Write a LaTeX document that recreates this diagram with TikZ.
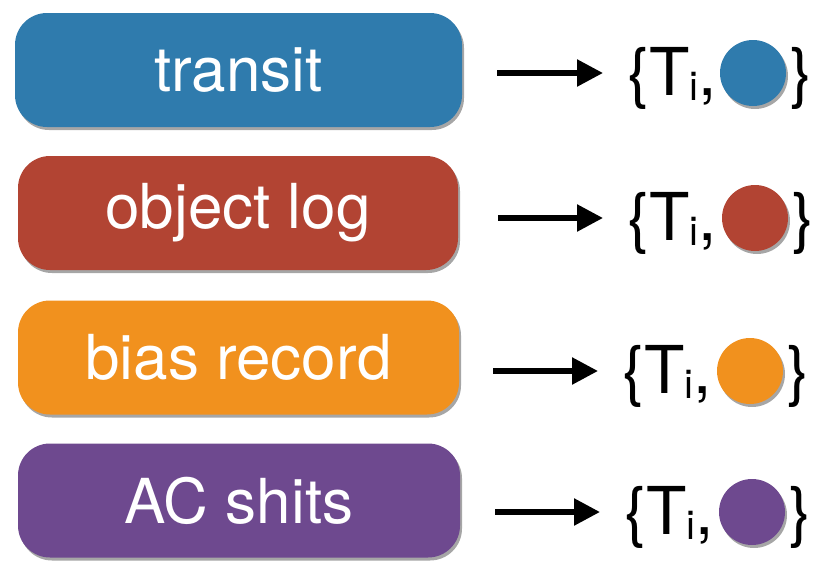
\documentclass[tikz,border=0pt]{standalone}
\usepackage{fontspec}
\setmainfont{TeX Gyre Heros}
\usetikzlibrary{shadows,arrows.meta}
\definecolor{cblue}{HTML}{2F7BAD}
\definecolor{cred}{HTML}{B24433}
\definecolor{corange}{HTML}{F1911E}
\definecolor{cpurple}{HTML}{6E498F}
\begin{document}
\begin{tikzpicture}[x=1pt,y=-1pt,
  pill/.style={rounded corners=32pt, text=white, font=\fontsize{62}{62}\selectfont, inner sep=0pt,
    minimum height=114pt,
    drop shadow={shadow xshift=2pt, shadow yshift=-3pt, opacity=0.35, fill=black}},
  dot/.style={circle, minimum size=66pt, inner sep=0pt,
    drop shadow={shadow xshift=2pt, shadow yshift=-3pt, opacity=0.35, fill=black}},
  setx/.style={anchor=base west, inner sep=0pt, font=\fontsize{66}{66}\selectfont},
  conn/.style={line width=5.5pt, -{Triangle[length=26pt,width=26pt]}, shorten >=24pt}]
\useasboundingbox (0,0) rectangle (816,560);

\node[pill, fill=cblue,   minimum width=447pt] (p1) at (238.5,70)  {transit};
\node[pill, fill=cred,    minimum width=440pt] (p2) at (238,213)   {object log};
\node[pill, fill=corange, minimum width=441pt] (p3) at (238.5,357.5) {bias record};
\node[pill, fill=cpurple, minimum width=442pt] (p4) at (239,500.5) {AC shits};

\newcommand{\tiset}{\{T\raisebox{-5pt}{\fontsize{40}{40}\selectfont i},}

% row 1
\coordinate (a1) at (497,73);
\node[setx] (s1) at (627,95) {\tiset};
\node[dot, fill=cblue] (c1) at (753,73) {};
\node[setx] (e1) at (790,95) {\}};
\draw[conn] (a1) -- (a1 -| s1.west);

% row 2
\coordinate (a2) at (498,218);
\node[setx] (s2) at (627,240) {\tiset};
\node[dot, fill=cred] (c2) at (755,218) {};
\node[setx] (e2) at (792,240) {\}};
\draw[conn] (a2) -- (a2 -| s2.west);

% row 3
\coordinate (a3) at (493,371);
\node[setx] (s3) at (622,393) {\tiset};
\node[dot, fill=corange] (c3) at (750,371) {};
\node[setx] (e3) at (787,393) {\}};
\draw[conn] (a3) -- (a3 -| s3.west);

% row 4
\coordinate (a4) at (495,512);
\node[setx] (s4) at (624,534) {\tiset};
\node[dot, fill=cpurple] (c4) at (752,512) {};
\node[setx] (e4) at (789,534) {\}};
\draw[conn] (a4) -- (a4 -| s4.west);
\end{tikzpicture}
\end{document}
